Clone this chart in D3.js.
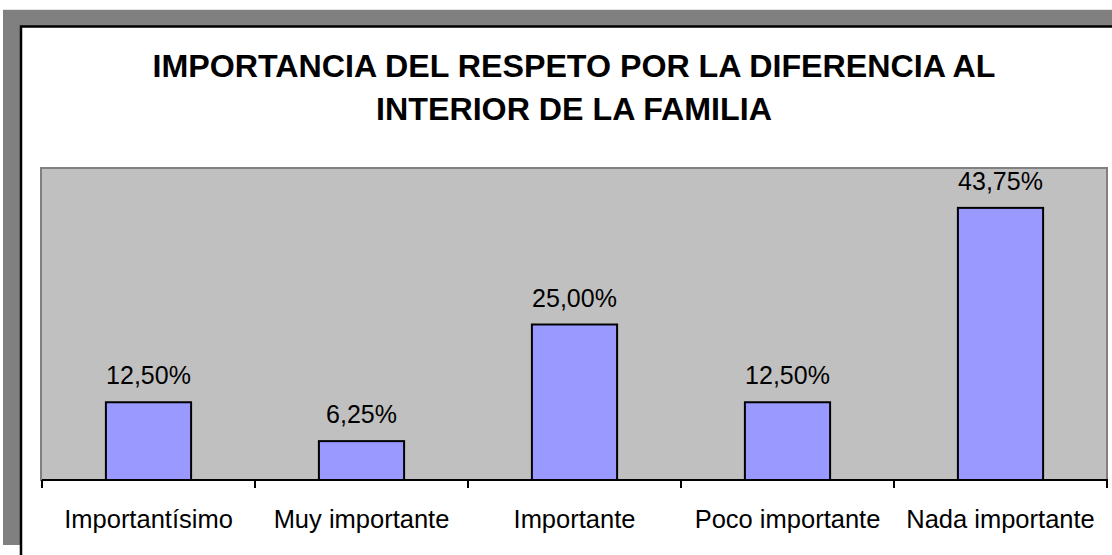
<!DOCTYPE html>
<html><head><meta charset="utf-8">
<script src="https://cdn.jsdelivr.net/npm/d3@7"></script>
<style>html,body{margin:0;padding:0;background:#fff;overflow:hidden}</style>
</head><body>
<script>
const titleLines = ["IMPORTANCIA DEL RESPETO POR LA DIFERENCIA AL", "INTERIOR DE LA FAMILIA"];
const categories = ["Importantísimo", "Muy importante", "Importante", "Poco importante", "Nada importante"];
const values = [12.5, 6.25, 25.0, 12.5, 43.75];
const yDomain = [0, 50];

const W = 1112, H = 555;
const svg = d3.select("body").append("svg").attr("width", W).attr("height", H);
const font = "Arial, 'Liberation Sans', sans-serif";

// shadow frame
svg.append("rect").attr("x", 3).attr("y", 10).attr("width", W).attr("height", 535).attr("fill", "#808080");
svg.append("line").attr("x1", 3).attr("x2", W).attr("y1", 9.5).attr("y2", 9.5).attr("stroke", "#e4e4e4");
// chart area
svg.append("rect").attr("x", 21).attr("y", 26.5).attr("width", W).attr("height", H)
  .attr("fill", "#fff").attr("stroke", "#000").attr("stroke-width", 2.5);

// title
const t = svg.append("text").attr("text-anchor", "middle").attr("font-family", font)
  .attr("font-weight", "bold").attr("font-size", 32.2).attr("fill", "#000");
titleLines.forEach((l, i) => t.append("tspan").attr("x", 574).attr("y", 77 + i * 42.5).text(l));

const plot = {x0: 42, x1: 1107, y0: 169, y1: 480};
const x = d3.scaleBand().domain(categories).range([plot.x0, plot.x1]).paddingInner(0.6).paddingOuter(0.3);
const y = d3.scaleLinear().domain(yDomain).range([plot.y1, plot.y0]);

svg.append("rect").attr("x", plot.x0 - 1).attr("y", plot.y0 - 1)
  .attr("width", plot.x1 - plot.x0 + 1).attr("height", plot.y1 - plot.y0 + 1)
  .attr("fill", "#c0c0c0").attr("stroke", "#808080").attr("stroke-width", 2);

svg.selectAll("rect.bar").data(values).enter().append("rect").attr("class", "bar")
  .attr("x", (d, i) => x(categories[i]))
  .attr("y", d => y(d))
  .attr("width", x.bandwidth())
  .attr("height", d => y(0) - y(d))
  .attr("fill", "#9999ff").attr("stroke", "#000").attr("stroke-width", 2);

const fmt = d => d.toFixed(2).replace(".", ",") + "%";
svg.selectAll("text.val").data(values).enter().append("text").attr("class", "val")
  .attr("x", (d, i) => x(categories[i]) + x.bandwidth() / 2)
  .attr("y", d => y(d) - 18)
  .attr("text-anchor", "middle").attr("font-family", font).attr("font-size", 25)
  .attr("fill", "#000").text(fmt);

// axis
const xa = d3.scaleBand().domain(categories).range([plot.x0, plot.x1]);
const axis = svg.append("g").attr("transform", `translate(0,${plot.y1})`)
  .call(d3.axisBottom(xa).tickSize(0).tickPadding(30));
axis.select(".domain").remove();
axis.selectAll("text").attr("font-family", font).attr("font-size", 25.5).attr("fill", "#000");
svg.append("line").attr("x1", plot.x0).attr("x2", plot.x1 + 1).attr("y1", plot.y1).attr("y2", plot.y1)
  .attr("stroke", "#000").attr("stroke-width", 2);
const tickPos = categories.map(c => xa(c)).concat([plot.x1]);
svg.selectAll("line.tick").data(tickPos).enter().append("line")
  .attr("x1", d => d).attr("x2", d => d).attr("y1", plot.y1).attr("y2", plot.y1 + 8)
  .attr("stroke", "#000").attr("stroke-width", 2);
</script>
</body></html>
